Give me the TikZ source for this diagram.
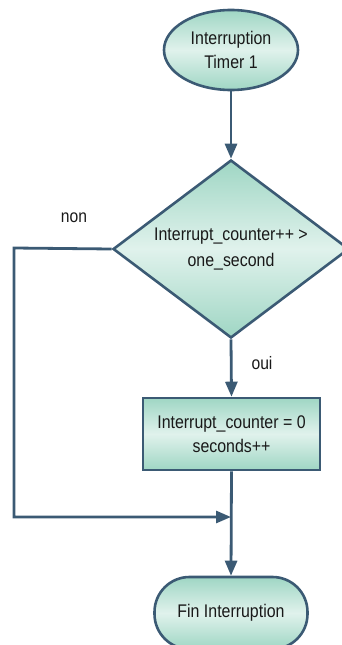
\documentclass[tikz,border=0pt]{standalone}
\usepackage{fontspec}
\setmainfont{Liberation Sans}[FakeStretch=0.87]
\usetikzlibrary{shapes.geometric,arrows.meta}
\definecolor{edge}{HTML}{3B5A74}
\definecolor{shadeA}{HTML}{9FD6C4}
\definecolor{shadeB}{HTML}{E0F2EC}
\tikzset{
  shapebox/.style={draw=edge, line width=2.6pt, top color=shadeA, bottom color=shadeA, middle color=shadeB,
    inner sep=0pt, align=center, font=\fontsize{18.3}{24}\selectfont, text=black!90},
  conn/.style={draw=edge, line width=2.8pt, -{Triangle[length=15pt,width=12pt]}},
  lbl/.style={font=\fontsize{18}{24}\selectfont, text=black!90}
}
\begin{document}
\begin{tikzpicture}[x=1pt,y=-1pt]
\useasboundingbox (0,0) rectangle (342,645);
\clip (0,0) rectangle (342,645);
\node[shapebox, ellipse, minimum width=134pt, minimum height=80pt] (start) at (231,50) {Interruption\\Timer 1};
\node[shapebox, diamond, aspect=1.33, minimum width=236pt, minimum height=178pt, font=\fontsize{18.3}{26}\selectfont] (dec) at (231,249) {Interrupt\_counter++ >\\one\_second};
\node[shapebox, rectangle, minimum width=177pt, minimum height=72pt] (box) at (231.5,434) {Interrupt\_counter = 0\\seconds++};
\node[shapebox, rectangle, rounded corners=35pt, minimum width=153pt, minimum height=72pt] (fin) at (231,613) {Fin Interruption};
\coordinate (nw) at (14,248);
\coordinate (join) at (231,517);
\draw[conn] (start.south) -- (dec.north);
\draw[conn] (dec.south) -- (box.north);
\draw[conn] (box.south) -- (fin.north);
\draw[conn] (dec.west) -- (nw) |- (join);
\node[lbl] (non) at (74,218) {non};
\node[lbl] (oui) at (262,363) {oui};
\end{tikzpicture}
\end{document}
